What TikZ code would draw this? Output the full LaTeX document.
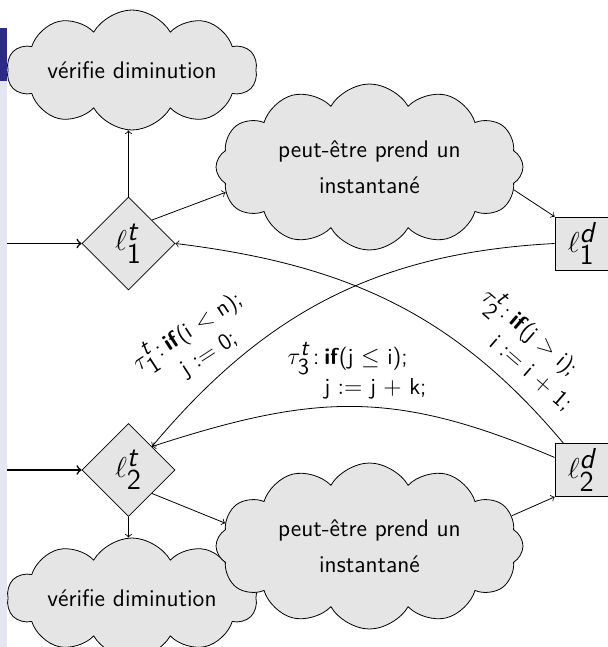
\documentclass[tikz,border=0pt]{standalone}
\usetikzlibrary{shapes.symbols,shapes.geometric}
\renewcommand\familydefault{\sfdefault}
\definecolor{sidedark}{RGB}{43,43,135}
\definecolor{sidelight}{RGB}{230,230,242}
\newcommand\lname[2]{$\ell^{\textit{#1}}_{\textsf{#2}}$}
\newcommand\tname[1]{$\tau^{\textit{t}}_{\textsf{#1}}$\kern1.5pt:\kern2.5pt}
\begin{document}
\begin{tikzpicture}[x=0.5pt,y=-0.5pt,
  every node/.style={font=\fontsize{12}{14}\selectfont},
  cloudbox/.style={cloud, cloud puff arc=120, draw, fill=gray!20,
    cloud ignores aspect, inner sep=0pt, align=center},
  smallcloud/.style={cloudbox, cloud puffs=10, minimum width=125pt, minimum height=60pt},
  bigcloud/.style={cloudbox, cloud puffs=12, minimum width=153.5pt, minimum height=83pt,
    execute at begin node=\setlength{\baselineskip}{18pt}},
  diam/.style={diamond, draw, fill=gray!20, minimum width=46.5pt, minimum height=46.5pt,
    inner sep=0pt, font=\fontsize{14.4}{17}\selectfont},
  dbox/.style={rectangle, draw, fill=gray!20, minimum width=26.5pt, minimum height=26.5pt,
    inner sep=0pt, font=\fontsize{14.4}{17}\selectfont},
  arr/.style={->, >=to},
  inarr/.style={->, >=to, thick},
  lbl/.style={inner sep=0pt, font=\fontsize{11.5}{14}\selectfont}
]
\useasboundingbox (0,0) rectangle (607,647);
% sidebar
\fill[sidelight] (0,28) rectangle (7,647);
\fill[sidedark] (0,28) rectangle (7,81);

% nodes
\node[smallcloud] (c1) at (132,70) {vérifie diminution};
\node[diam] (l1t) at (128.5,243.5) {\lname{t}{1}};
\node[bigcloud] (c2) at (369.5,167) {peut-être prend un\\instantané};
\node[dbox] (l1d) at (581.5,243.5) {\lname{d}{1}};
\node[diam] (l2t) at (128.5,470) {\lname{t}{2}};
\node[dbox] (l2d) at (581.5,470) {\lname{d}{2}};
\node[smallcloud] (c3) at (132,598) {vérifie diminution};
\node[bigcloud] (c4) at (369.5,546) {peut-être prend un\\instantané};

\coordinate (in1) at (7,243.5);
\coordinate (in2) at (7,470);

% connectors
\draw[inarr] (in1) -- (l1t.west);
\draw[inarr] (in2) -- (l2t.west);
\draw[arr] (l1t.north) -- (l1t.north |- c1.south);
\draw[arr] (l1t.north east) -- (c2.190);
\draw[arr] (c2.-9) -- (l1d.north west);
\draw[arr] (l2t.south) -- (l2t.south |- c3.north);
\draw[arr] (l2t.south east) -- (c4.171);
\draw[arr] (c4.12) -- (l2d.south west);

\draw[arr] (l1d.west) to[out=183,in=50] (l2t.north east);
\draw[arr] (l2d.124) to[out=130,in=-7] (l1t.east);
\draw[arr] (l2d.155) to[out=157,in=18,looseness=1.1] (l2t.north east);

% labels
\node[lbl, rotate=33] (t1) at (196,344) {\begin{tabular}{@{}l@{}l@{}}\tname{1}&\textbf{if}(i $<$ n);\\ & j $:=$ 0;\end{tabular}};
\node[lbl, rotate=-41] (t2) at (527,350) {\begin{tabular}{@{}l@{}l@{}}\tname{2}&\textbf{if}(j $>$ i);\\ & i $:=$ i $+$ 1;\end{tabular}};
\node[lbl] (t3) at (357,373) {\begin{tabular}{@{}l@{}l@{}}\tname{3}&\textbf{if}(j $\le$ i);\\ & j $:=$ j $+$ k;\end{tabular}};
\end{tikzpicture}
\end{document}
